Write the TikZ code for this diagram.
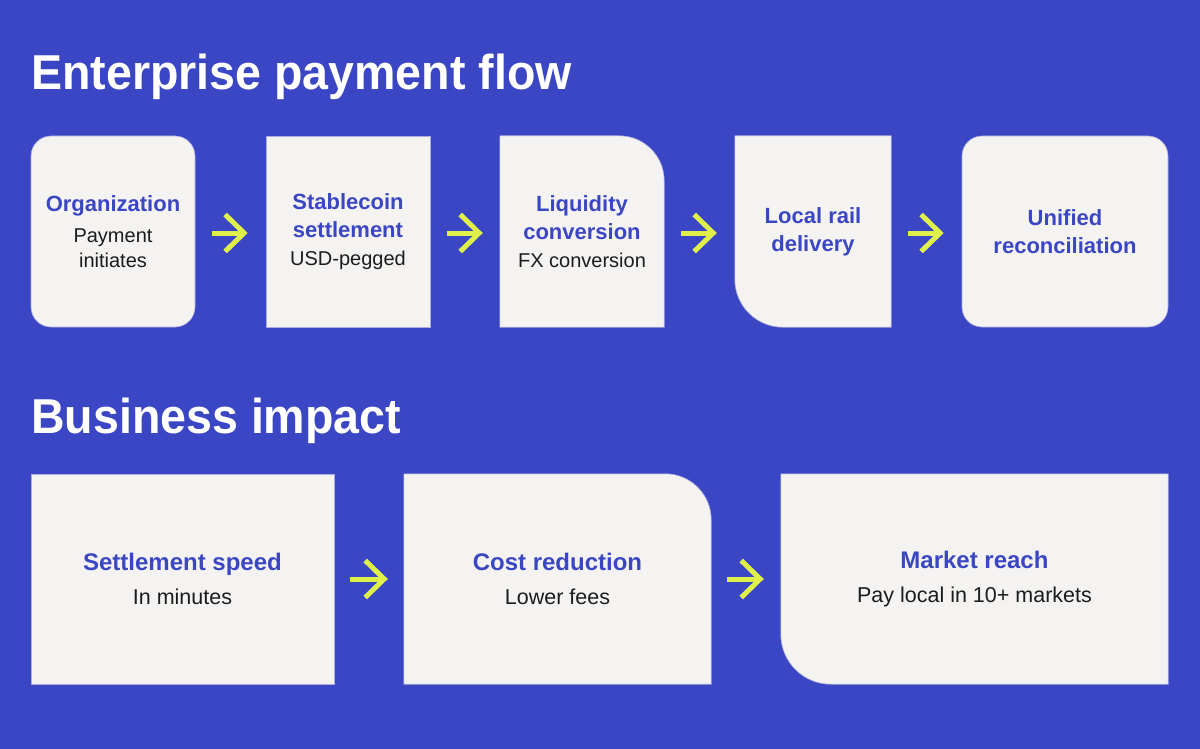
\documentclass[tikz,border=0pt]{standalone}
\usepackage{fontspec}
\setmainfont{Liberation Sans}
\newfontfamily\titlefont{Liberation Sans}[FakeStretch=0.95]
\usetikzlibrary{arrows.meta,backgrounds}
\definecolor{bg}{HTML}{3B46C4}
\definecolor{boxc}{HTML}{F4F3F1}
\definecolor{arr}{HTML}{DFF04B}
\definecolor{ink}{HTML}{1C1C1C}
\definecolor{edge}{HTML}{A9ACE0}
\newcommand{\hdA}{\bfseries\color{bg}}
\newcommand{\sbA}{\fontsize{20}{28}\selectfont\mdseries\color{ink}}
\newcommand{\hdB}{\bfseries\color{bg}}
\newcommand{\sbB}{\fontsize{21.5}{34}\selectfont\mdseries\color{ink}}
\begin{document}
\begin{tikzpicture}[x=1pt,y=-1pt,
  title/.style={anchor=base west,text=white,font=\titlefont\fontsize{49}{56}\selectfont\bfseries,inner sep=0},
  box/.style={fill=boxc,draw=edge,line width=0.6pt,inner sep=0,align=center},
  txtbox/.style={inner sep=0,align=center},
  boxshape/.style={fill=boxc,draw=edge,line width=0.6pt},
  flow/.style={draw=arr,line width=5pt,-{Straight Barb[length=19pt,width=37pt,line cap=butt,line join=miter]}},
  rowA/.style={minimum height=191pt,font=\fontsize{22}{28}\selectfont},
  rowB/.style={minimum height=210pt,font=\fontsize{24}{34}\selectfont}]
\begin{pgfonlayer}{background}
\fill[bg] (0,0) rectangle (1200,749);
\end{pgfonlayer}
\useasboundingbox (0,0) rectangle (1200,749);

\node[title] (t1) at (31,90) {Enterprise payment flow};
\node[title] (t2) at (31,433) {Business impact};

% Row 1
\node[box,rowA,rounded corners=20pt,minimum width=164pt] (b1) at (113,231.5)
  {\hdA Organization\\[3pt]\sbA Payment\\[-3pt]\sbA initiates};
\node[box,rowA,minimum width=164pt] (b2) at (348,231.5)
  {\hdA Stablecoin\\\hdA settlement\\\sbA USD-pegged};
\node[txtbox,rowA,minimum width=164pt] (b3) at (582,231.5)
  {\hdA Liquidity\\\hdA conversion\\\sbA FX conversion};
\node[txtbox,rowA,minimum width=156pt] (b4) at (813,231.5)
  {\hdA Local rail\\\hdA delivery};
\node[box,rowA,rounded corners=20pt,minimum width=206pt] (b5) at (1065,231.5)
  {\hdA Unified\\\hdA reconciliation};

% Row 2
\node[box,rowB,minimum width=303pt] (c1) at (182.5,579)
  {\hdB Settlement speed\\\sbB In minutes};
\node[txtbox,rowB,minimum width=307pt] (c2) at (557.5,579)
  {\hdB Cost reduction\\\sbB Lower fees};
\node[txtbox,rowB,minimum width=387pt] (c3) at (974.5,579)
  {\hdB Market reach\\\sbB Pay local in 10+ markets};

\begin{pgfonlayer}{background}
\path[boxshape] (b3.south west) -- (b3.north west) [rounded corners=45pt] -- (b3.north east) [sharp corners] -- (b3.south east) -- cycle;
\path[boxshape] (b4.north west) [rounded corners=48pt] -- (b4.south west) [sharp corners] -- (b4.south east) -- (b4.north east) -- cycle;
\path[boxshape] (c2.south west) -- (c2.north west) [rounded corners=46pt] -- (c2.north east) [sharp corners] -- (c2.south east) -- cycle;
\path[boxshape] (c3.north west) [rounded corners=50pt] -- (c3.south west) [sharp corners] -- (c3.south east) -- (c3.north east) -- cycle;
\end{pgfonlayer}

% Arrows
\draw[flow,shorten <=17pt,shorten >=18pt] ([yshift=-1.5pt]b1.east) -- ([yshift=-1.5pt]b2.west);
\draw[flow,shorten <=17pt,shorten >=17pt] ([yshift=-1.5pt]b2.east) -- ([yshift=-1.5pt]b3.west);
\draw[flow,shorten <=17pt,shorten >=18pt] ([yshift=-1.5pt]b3.east) -- ([yshift=-1.5pt]b4.west);
\draw[flow,shorten <=17pt,shorten >=18pt] ([yshift=-1.5pt]b4.east) -- ([yshift=-1.5pt]b5.west);
\draw[flow,shorten <=16pt,shorten >=16pt] (c1.east) -- (c2.west);
\draw[flow,shorten <=16pt,shorten >=17pt] (c2.east) -- (c3.west);
\end{tikzpicture}
\end{document}
